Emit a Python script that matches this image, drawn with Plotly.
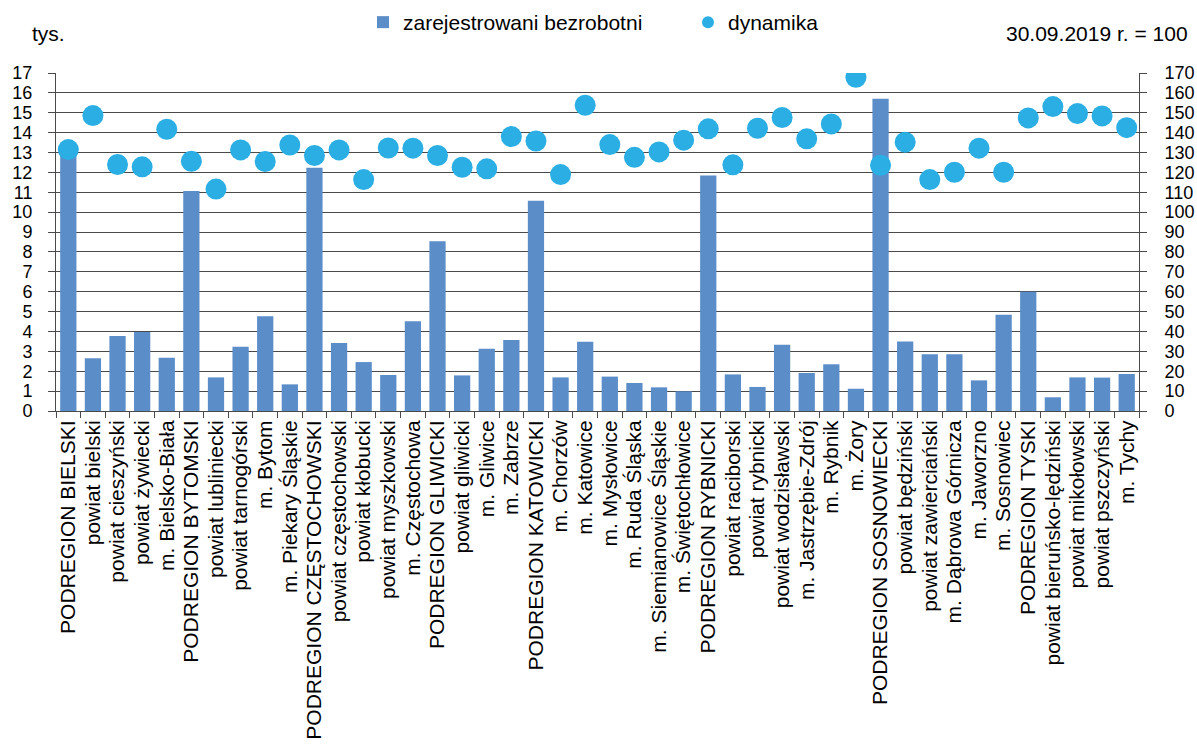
import plotly.graph_objects as go

categories = [
    "PODREGION BIELSKI", "powiat bielski", "powiat cieszyński", "powiat żywiecki",
    "m. Bielsko-Biała", "PODREGION BYTOMSKI", "powiat lubliniecki", "powiat tarnogórski",
    "m. Bytom", "m. Piekary Śląskie", "PODREGION CZĘSTOCHOWSKI", "powiat częstochowski",
    "powiat kłobucki", "powiat myszkowski", "m. Częstochowa", "PODREGION GLIWICKI",
    "powiat gliwicki", "m. Gliwice", "m. Zabrze", "PODREGION KATOWICKI",
    "m. Chorzów", "m. Katowice", "m. Mysłowice", "m. Ruda Śląska",
    "m. Siemianowice Śląskie", "m. Świętochłowice", "PODREGION RYBNICKI", "powiat raciborski",
    "powiat rybnicki", "powiat wodzisławski", "m. Jastrzębie-Zdrój", "m. Rybnik",
    "m. Żory", "PODREGION SOSNOWIECKI", "powiat będziński", "powiat zawierciański",
    "m. Dąbrowa Górnicza", "m. Jaworzno", "m. Sosnowiec", "PODREGION TYSKI",
    "powiat bieruńsko-lędziński", "powiat mikołowski", "powiat pszczyński", "m. Tychy",
]

bezrobotni = [
    13.0, 2.65, 3.77, 3.97, 2.68, 11.06, 1.69, 3.23, 4.76, 1.34,
    12.24, 3.42, 2.46, 1.81, 4.51, 8.54, 1.79, 3.13, 3.57, 10.57,
    1.69, 3.48, 1.73, 1.41, 1.19, 0.99, 11.84, 1.84, 1.21, 3.33,
    1.91, 2.35, 1.12, 15.70, 3.50, 2.85, 2.85, 1.54, 4.84, 6.00,
    0.69, 1.69, 1.68, 1.86,
]

dynamika = [
    131.5, 148.6, 124.0, 122.8, 141.7, 125.6, 111.6, 131.3, 125.5, 133.8,
    128.5, 131.3, 116.4, 132.3, 132.2, 128.5, 122.6, 121.8, 138.0, 135.8,
    118.9, 153.8, 134.0, 127.6, 130.3, 136.2, 141.9, 123.8, 142.2, 147.6,
    136.9, 144.4, 167.8, 123.6, 135.2, 116.4, 120.1, 132.2, 120.1, 147.4,
    153.1, 149.6, 148.4, 142.5,
]

left_ticks = list(range(0, 18))
right_ticks = list(range(0, 180, 10))

FONT = "Liberation Sans, Arial, sans-serif"
GRID = "#4a4a4a"
FS = 21
YFS = 18

fig = go.Figure()
fig.add_trace(go.Bar(
    x=categories, y=bezrobotni, name="zarejestrowani bezrobotni",
    marker=dict(color="#5b8dc9", line=dict(width=0)),
    yaxis="y",
))
fig.add_trace(go.Scatter(
    x=categories, y=dynamika, name="dynamika", mode="markers",
    marker=dict(color="#2aaee4", size=21, line=dict(width=0)),
    yaxis="y2",
))

fig.update_layout(
    width=1197, height=745,
    margin=dict(l=56, r=58, t=73, b=334),
    paper_bgcolor="white", plot_bgcolor="white",
    font=dict(family=FONT, size=FS, color="black"),
    bargap=0.34,
    showlegend=True,
    legend=dict(
        orientation="h", xref="container", yref="container",
        x=363 / 1197, y=1 - 2 / 745, xanchor="left", yanchor="top",
        font=dict(size=FS), entrywidth=280, itemsizing="constant",
        bgcolor="rgba(0,0,0,0)",
    ),
    xaxis=dict(
        type="category", tickangle=-90, tickson="boundaries",
        tickmode="array", tickvals=categories, ticktext=categories,
        ticks="outside", ticklen=6, tickcolor=GRID,
        showline=True, linecolor=GRID, linewidth=1,
        showgrid=False, automargin=False, tickfont=dict(size=FS),
        range=[-0.5, len(categories) - 0.5],
    ),
    yaxis=dict(
        range=[0, 17], tickvals=left_ticks, ticks="outside", ticklen=7,
        tickcolor=GRID, showline=True, linecolor=GRID, linewidth=1,
        showgrid=True, gridcolor=GRID, gridwidth=1, zeroline=False,
        automargin=False, tickfont=dict(size=YFS), ticklabelstandoff=12,
    ),
    yaxis2=dict(
        range=[0, 170], tickvals=right_ticks, overlaying="y", side="right",
        ticks="outside", ticklen=7, tickcolor=GRID, showline=True,
        linecolor=GRID, linewidth=1, showgrid=False, zeroline=False,
        automargin=False, tickfont=dict(size=YFS), ticklabelstandoff=14,
    ),
    annotations=[
        dict(text="tys.", xref="paper", yref="paper", x=-26 / 1083, y=1 + 40 / 338,
             xanchor="left", yanchor="middle", showarrow=False,
             font=dict(size=FS)),
        dict(text="30.09.2019 r. = 100", xref="paper", yref="paper",
             x=1 + 51 / 1083, y=1 + 40 / 338, xanchor="right", yanchor="middle",
             showarrow=False, font=dict(size=FS)),
    ],
)

fig.write_html("out.html", config={"displayModeBar": False},
               post_script="document.body.style.margin='0px';")
